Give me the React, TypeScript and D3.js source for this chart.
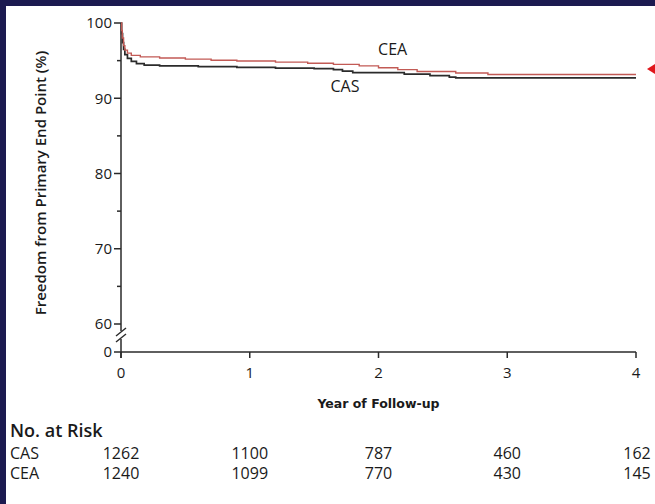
import { useRef, useEffect } from "react";
import * as d3 from "d3";

// Kaplan-Meier steps: [year, % free from end point]
const casSteps: [number, number][] = [
  [0, 100], [0.005, 98.6], [0.012, 97.4], [0.02, 96.5], [0.03, 95.8],
  [0.05, 95.3], [0.08, 94.9], [0.12, 94.6], [0.18, 94.4], [0.3, 94.3],
  [0.6, 94.2], [0.9, 94.1], [1.2, 94.0], [1.5, 93.95], [1.65, 93.8],
  [1.72, 93.6], [1.8, 93.4], [2.2, 93.2], [2.4, 93.0], [2.55, 92.8],
  [2.6, 92.7], [4.0, 92.7],
];
const ceaSteps: [number, number][] = [
  [0, 100], [0.005, 99.0], [0.01, 98.0], [0.02, 97.0], [0.03, 96.4],
  [0.05, 96.0], [0.08, 95.7], [0.15, 95.5], [0.3, 95.35], [0.5, 95.2],
  [0.7, 95.05], [0.9, 94.95], [1.2, 94.8], [1.45, 94.65], [1.65, 94.5],
  [1.85, 94.3], [2.0, 94.05], [2.15, 93.8], [2.3, 93.55], [2.6, 93.35],
  [2.85, 93.15], [4.0, 93.15],
];

const xTicks = [0, 1, 2, 3, 4];
const yMajor = [60, 70, 80, 90, 100];
const yMinor = [65, 75, 85, 95];

const riskGroups = ["CAS", "CEA"];
const casAtRisk = [1262, 1100, 787, 460, 162];
const ceaAtRisk = [1240, 1099, 770, 430, 145];

const W = 655;
const H = 504;

const App = () => {
  const svgRef = useRef<SVGSVGElement>(null);

  useEffect(() => {
    const svg = d3.select(svgRef.current);
    svg.selectAll("*").remove();

    const font = "'Open Sans', 'Noto Sans', sans-serif";

    // fondo azul marino + panel blanco
    svg.append("rect").attr("width", W).attr("height", H).attr("fill", "#1c1a50");
    svg.append("rect").attr("x", 6).attr("y", 6).attr("width", W - 6).attr("height", H - 6).attr("fill", "#fff");

    const x = d3.scaleLinear().domain([0, 4]).range([121, 636]);
    const y = d3.scaleLinear().domain([60, 100]).range([324, 23]);
    const axisY = 352;

    const g = svg.append("g").attr("stroke", "#2a2a2a").attr("stroke-width", 1.5).attr("fill", "none");

    // eje y con corte
    g.append("line").attr("x1", x(0)).attr("x2", x(0)).attr("y1", y(100)).attr("y2", 331);
    g.append("line").attr("x1", x(0)).attr("x2", x(0)).attr("y1", 339).attr("y2", axisY + 6);
    g.append("line").attr("x1", x(0) - 5).attr("x2", x(0) + 5).attr("y1", 336).attr("y2", 328);
    g.append("line").attr("x1", x(0) - 5).attr("x2", x(0) + 5).attr("y1", 342).attr("y2", 334);

    g.selectAll(".maj")
      .data(yMajor)
      .join("line")
      .attr("x1", x(0) - 7)
      .attr("x2", x(0))
      .attr("y1", (d) => y(d))
      .attr("y2", (d) => y(d));
    g.selectAll(".min")
      .data(yMinor)
      .join("line")
      .attr("x1", x(0) - 4)
      .attr("x2", x(0))
      .attr("y1", (d) => y(d))
      .attr("y2", (d) => y(d));
    g.append("line").attr("x1", x(0) - 7).attr("x2", x(0)).attr("y1", axisY).attr("y2", axisY);

    // eje x
    g.append("line").attr("x1", x(0)).attr("x2", x(4)).attr("y1", axisY).attr("y2", axisY);
    g.selectAll(".xt")
      .data(xTicks)
      .join("line")
      .attr("x1", (d) => x(d))
      .attr("x2", (d) => x(d))
      .attr("y1", axisY)
      .attr("y2", axisY + 6);

    const txt = svg.append("g").attr("fill", "#1a1a1a").style("font-family", font);

    txt.selectAll(".yl")
      .data([...yMajor, 0])
      .join("text")
      .attr("x", x(0) - 9)
      .attr("y", (d) => (d === 0 ? axisY : y(d)))
      .attr("dy", "0.35em")
      .attr("text-anchor", "end")
      .attr("font-size", 15)
      .text((d) => d);

    txt.selectAll(".xl")
      .data(xTicks)
      .join("text")
      .attr("x", (d) => x(d))
      .attr("y", axisY + 26)
      .attr("text-anchor", "middle")
      .attr("font-size", 15)
      .text((d) => d);

    txt.append("text")
      .attr("transform", `translate(46,183) rotate(-90)`)
      .attr("text-anchor", "middle")
      .attr("font-size", 15)
      .attr("font-weight", 600)
      .text("Freedom from Primary End Point (%)");

    txt.append("text")
      .attr("x", (x(0) + x(4)) / 2)
      .attr("y", 408)
      .attr("text-anchor", "middle")
      .attr("font-size", 12.5)
      .attr("font-weight", 700)
      .style("font-family", "'DejaVu Sans', sans-serif")
      .text("Year of Follow-up");

    // curvas
    const line = d3
      .line<[number, number]>()
      .x((d) => x(d[0]))
      .y((d) => y(d[1]))
      .curve(d3.curveStepAfter);

    svg.append("path").attr("d", line(casSteps)).attr("fill", "none").attr("stroke", "#2b2b2b").attr("stroke-width", 1.7);
    svg.append("path").attr("d", line(ceaSteps)).attr("fill", "none").attr("stroke", "#c25a55").attr("stroke-width", 1.4);

    txt.append("text").attr("x", x(2.11)).attr("y", y(95.7)).attr("text-anchor", "middle").attr("font-size", 16).text("CEA");
    txt.append("text").attr("x", x(1.74)).attr("y", y(90.8)).attr("text-anchor", "middle").attr("font-size", 16).text("CAS");

    // flecha roja
    svg.append("path").attr("d", "M647,69 L655,64 L655,74 Z").attr("fill", "#e0161b");

    // tabla de pacientes en riesgo
    txt.append("text").attr("x", 10).attr("y", 437).attr("font-size", 18).attr("font-weight", 600).text("No. at Risk");
    const rows = [casAtRisk, ceaAtRisk];
    rows.forEach((vals, i) => {
      const ry = 459 + i * 20;
      txt.append("text").attr("x", 10).attr("y", ry).attr("font-size", 16).text(riskGroups[i]);
      txt.selectAll(`.r${i}`)
        .data(vals)
        .join("text")
        .attr("x", (_, j) => x(xTicks[j]) + (j === 4 ? 1 : 0))
        .attr("y", ry)
        .attr("text-anchor", "middle")
        .attr("font-size", 16)
        .text((d) => d);
    });

    return () => {
      svg.selectAll("*").remove();
    };
  }, []);

  return (
    <svg
      ref={svgRef}
      width={W}
      height={H}
      style={{ position: "absolute", left: 0, top: 0, display: "block" }}
    ></svg>
  );
};

export default App;
